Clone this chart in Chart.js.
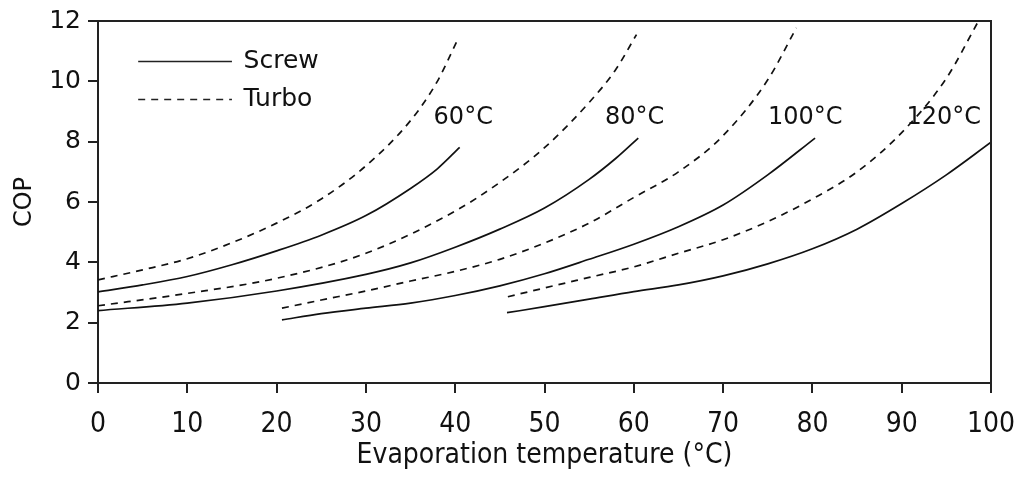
<!DOCTYPE html>
<html>
<head>
<meta charset="utf-8">
<script src="https://cdn.jsdelivr.net/npm/chart.js@4.4.1/dist/chart.umd.min.js"></script>
<style>
  html, body { margin: 0; padding: 0; background: #fff; }
  #wrap { width: 1021px; height: 479px; }
</style>
</head>
<body>
<div id="wrap"><canvas id="cop"></canvas></div>
<script>
"use strict";

// COP vs evaporation temperature, one pair of curves per condensing temperature
const X_60T = [0, 5, 10, 15, 20, 25, 30, 35, 38, 40.3];
const TURBO_60 = [3.42, 3.75, 4.12, 4.65, 5.3, 6.1, 7.2, 8.7, 10.0, 11.4];
const X_60S = [0, 5, 10, 15, 20, 25, 30, 35, 38, 40.5];
const SCREW_60 = [3.02, 3.25, 3.53, 3.92, 4.38, 4.9, 5.55, 6.45, 7.1, 7.81];

const X_80T = [0, 10, 20, 30, 40, 45, 50, 55, 58, 60.3];
const TURBO_80 = [2.56, 2.97, 3.47, 4.3, 5.7, 6.65, 7.8, 9.3, 10.4, 11.55];
const X_80S = [0, 10, 20, 30, 35, 40, 45, 50, 55, 58, 60.5];
const SCREW_80 = [2.4, 2.65, 3.05, 3.6, 3.98, 4.5, 5.1, 5.8, 6.75, 7.45, 8.12];

const X_100T = [20.6, 25, 30, 35, 40, 45, 50, 55, 60, 65, 70, 75, 78.2];
const TURBO_100 = [2.48, 2.75, 3.05, 3.38, 3.7, 4.1, 4.64, 5.3, 6.15, 7.0, 8.2, 10.05, 11.77];
const X_100S = [20.6, 25, 30, 35, 40, 45, 50, 55, 60, 65, 70, 75, 80.3];
const SCREW_100 = [2.09, 2.3, 2.48, 2.65, 2.9, 3.22, 3.62, 4.1, 4.6, 5.18, 5.9, 6.9, 8.12];

const X_120T = [45.9, 50, 55, 60, 65, 70, 75, 80, 85, 90, 95, 98.6];
const TURBO_120 = [2.86, 3.15, 3.5, 3.85, 4.3, 4.75, 5.35, 6.1, 7.0, 8.3, 10.1, 12.0];
const X_120S = [45.8, 50, 55, 60, 65, 70, 75, 80, 85, 90, 95, 100];
const SCREW_120 = [2.33, 2.53, 2.78, 3.03, 3.25, 3.55, 3.95, 4.45, 5.1, 5.95, 6.9, 7.98];

const CURVE_LABELS = ["60°C", "80°C", "100°C", "120°C"];
const CURVE_LABEL_X = [40.9, 60.1, 79.2, 94.7];
const CURVE_LABEL_Y = 8.8;

const X_TICKS = [0, 10, 20, 30, 40, 50, 60, 70, 80, 90, 100];
const Y_TICKS = [0, 2, 4, 6, 8, 10, 12];

const INK = "#111";
const DASH = [7, 6];
const FONT = "'DejaVu Sans', Verdana, sans-serif";
const NARROW = "'DejaVu Sans Condensed', 'Liberation Sans', sans-serif";

function pts(xs, ys) { return xs.map((x, i) => ({ x, y: ys[i] })); }

function curve(label, xs, ys, dashed) {
  return {
    label,
    data: pts(xs, ys),
    borderColor: INK,
    borderWidth: 1.7,
    borderDash: dashed ? DASH : [],
    pointRadius: 0,
    fill: false,
    cubicInterpolationMode: "monotone",
  };
}

// frame, legend and curve labels
const decorations = {
  id: "decorations",
  afterDraw(chart) {
    const { ctx, chartArea: a, scales: { x, y } } = chart;
    ctx.save();
    ctx.strokeStyle = "#222";
    ctx.lineWidth = 2;
    ctx.beginPath();
    ctx.moveTo(a.left, a.top);
    ctx.lineTo(a.right, a.top);
    ctx.lineTo(a.right, a.bottom);
    ctx.stroke();

    ctx.fillStyle = INK;
    ctx.font = "24px " + FONT;
    ctx.textBaseline = "middle";
    ctx.textAlign = "center";
    CURVE_LABELS.forEach((t, i) => {
      ctx.fillText(t, x.getPixelForValue(CURVE_LABEL_X[i]), y.getPixelForValue(CURVE_LABEL_Y));
    });

    const rows = [["Screw", 10.69, []], ["Turbo", 9.43, DASH]];
    ctx.font = "25px " + FONT;
    ctx.textAlign = "left";
    rows.forEach(([name, v, dash]) => {
      const py = Math.round(y.getPixelForValue(v)) + 0.5;
      ctx.setLineDash(dash);
      ctx.lineWidth = 1.7;
      ctx.beginPath();
      ctx.moveTo(x.getPixelForValue(4.5), py);
      ctx.lineTo(x.getPixelForValue(15), py);
      ctx.stroke();
      ctx.setLineDash([]);
      ctx.fillText(name, x.getPixelForValue(16.3), py);
    });
    ctx.restore();
  },
};

new Chart(document.getElementById("cop"), {
  type: "line",
  data: {
    datasets: [
      curve("Turbo 60", X_60T, TURBO_60, true),
      curve("Screw 60", X_60S, SCREW_60, false),
      curve("Turbo 80", X_80T, TURBO_80, true),
      curve("Screw 80", X_80S, SCREW_80, false),
      curve("Turbo 100", X_100T, TURBO_100, true),
      curve("Screw 100", X_100S, SCREW_100, false),
      curve("Turbo 120", X_120T, TURBO_120, true),
      curve("Screw 120", X_120S, SCREW_120, false),
    ],
  },
  options: {
    responsive: true,
    maintainAspectRatio: false,
    animation: false,
    layout: { padding: { left: 0, right: 30, top: 21, bottom: 0 } },
    plugins: { legend: { display: false }, tooltip: { enabled: false } },
    scales: {
      x: {
        type: "linear",
        min: 0, max: 100,
        afterBuildTicks: s => { s.ticks = X_TICKS.map(v => ({ value: v })); },
        afterFit: s => { s.height = 96; s.paddingLeft = 0; s.paddingRight = 30; },
        grid: { drawOnChartArea: false, tickLength: 10, color: "#222", lineWidth: 2 },
        border: { color: "#222", width: 2 },
        ticks: { color: INK, padding: 15, maxRotation: 0, font: { family: NARROW, size: 28 } },
        title: {
          display: true, text: "Evaporation temperature (°C)", color: INK,
          font: { family: NARROW, size: 28 }, padding: { top: 0, bottom: 6 },
        },
      },
      y: {
        min: 0, max: 12,
        afterBuildTicks: s => { s.ticks = Y_TICKS.map(v => ({ value: v })); },
        afterFit: s => { s.width = 98; s.paddingTop = 21; s.paddingBottom = 0; },
        grid: { drawOnChartArea: false, tickLength: 10, color: "#222", lineWidth: 2 },
        border: { color: "#222", width: 2 },
        ticks: { color: INK, padding: 7, font: { family: FONT, size: 25 } },
        title: {
          display: true, text: "COP", color: INK,
          font: { family: FONT, size: 24 }, padding: { top: 10, bottom: 0 },
        },
      },
    },
  },
  plugins: [decorations],
});
</script>
</body>
</html>
